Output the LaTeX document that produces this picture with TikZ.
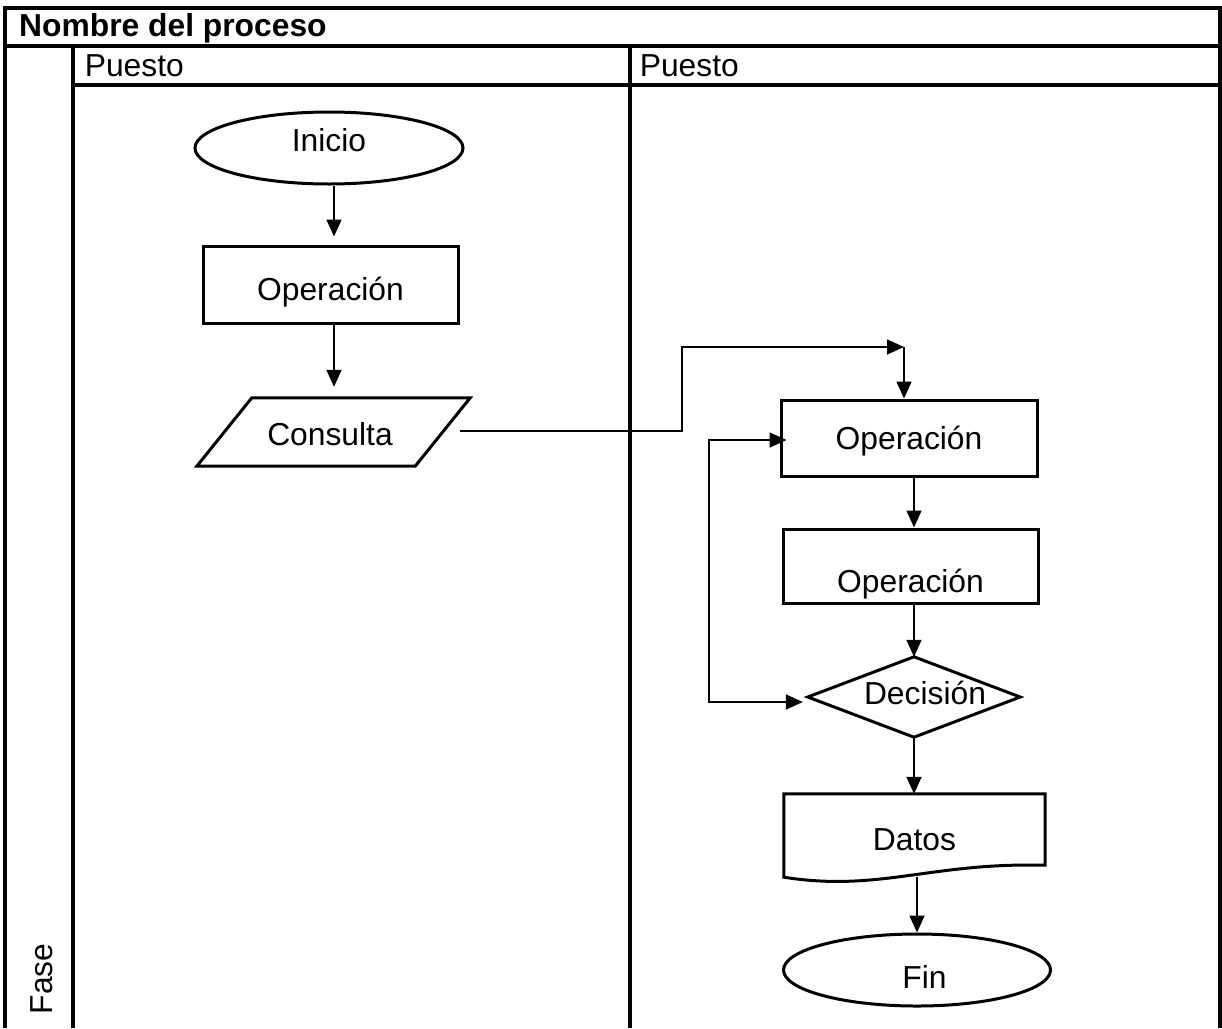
\documentclass[tikz,border=0pt]{standalone}
\usepackage{fontspec}
\setmainfont{Liberation Sans}
\usetikzlibrary{arrows.meta,shapes.geometric,calc}
\newcommand\diagsize{\fontsize{31.8pt}{37pt}\selectfont}
\begin{document}
\begin{tikzpicture}[x=1pt,y=-1pt,
  every node/.style={font=\diagsize, inner sep=0pt},
  grid/.style={line width=3.3pt},
  shp/.style={draw, line width=3pt},
  box/.style={shp, rectangle},
  term/.style={shp, ellipse},
  hidden/.style={rectangle},
  tip/.tip={Triangle[length=17pt,width=15pt]},
  conn/.style={line width=1.6pt, -tip},
  fbk/.style={line width=1.6pt, tip-tip},
  head/.style={anchor=base west}]
\useasboundingbox (0,0) rectangle (1222,1028);

% swimlane table
\draw[grid] (5,1028) -- (5,8) -- (1220,8) -- (1220,1028);
\draw[grid] (5,46) -- (1220,46);
\draw[grid] (73,85) -- (1220,85);
\draw[grid] (73,46) -- (73,1028);
\draw[grid] (630,46) -- (630,1028);

\node[head, font=\diagsize\bfseries] (title) at (19,36) {Nombre del proceso};
\node[head] (lane1) at (84.6,76) {Puesto};
\node[head] (lane2) at (639.6,76) {Puesto};
\node[head, rotate=90] (phase) at (52,1014.5) {Fase};

% left lane
\node[term, minimum width=268, minimum height=72, text height=22.6pt, text depth=16pt]
  (inicio) at (329,148) {Inicio};
\node[box, minimum width=255, minimum height=77, text height=32.6pt, text depth=0pt]
  (op1) at (330.5,284.5) {Operación};
\node[hidden, minimum width=273, minimum height=68, text height=26.6pt, text depth=0pt]
  (consulta) at (333.5,432) {\hspace*{-7pt}Consulta};
\draw[shp] ($(consulta.north west)+(55,0)$) -- (consulta.north east)
  -- ($(consulta.south east)+(-55,0)$) -- (consulta.south west) -- cycle;

% right lane
\node[box, minimum width=256, minimum height=76, text height=22.6pt, text depth=0pt]
  (op3) at (909,438) {Operación};
\node[box, minimum width=255, minimum height=74, text height=53.6pt, text depth=0pt]
  (op2) at (910.5,566) {Operación};
\node[hidden, minimum width=212, minimum height=80, text height=22.6pt, text depth=8pt]
  (dec) at (914,697) {\hspace*{22pt}Decisión};
\draw[shp] (dec.west) -- (dec.north) -- (dec.east) -- (dec.south) -- cycle;
\node[hidden, minimum width=261, minimum height=83, text height=30.6pt, text depth=0pt]
  (datos) at (914.5,835.5) {Datos};
\draw[shp] (datos.south west) -- (datos.north west) -- (datos.north east)
  -- ($(datos.south east)+(0,-12)$)
  .. controls ($(datos.south east)+(-115,-15)$) and ($(datos.south west)+(96,15)$) .. (datos.south west)
  -- cycle;
\node[term, minimum width=267, minimum height=72, text height=37.6pt, text depth=0pt]
  (fin) at (917,970) {\hspace*{15pt}Fin};

% connectors
\coordinate (laxis) at (334,0);
\coordinate (raxis) at (914,0);
\coordinate (bend) at (682,347);
\coordinate (jn) at (904,347);
\coordinate (fb1) at (709,702);
\coordinate (fb2) at (709,440);

\draw[conn, shorten >=8pt] (inicio.south -| laxis) -- (op1.north -| laxis);
\draw[conn, shorten >=11pt] (op1.south -| laxis) -- (consulta.north -| laxis);
\draw[conn] ($(consulta.east)+(-10,-1)$) -| (bend) -- (jn);
\draw[conn] (jn) -- (jn |- op3.north);
\draw[conn] (op3.south -| raxis) -- (op2.north -| raxis);
\draw[conn] (op2.south -| raxis) -- (dec.north);
\draw[conn] (dec.south) -- (datos.north -| raxis);
\draw[conn] (fin.north |- datos.south) -- (fin.north);
\draw[fbk] ($(dec.west)+(-5,5)$) -- (fb1) -- (fb2) -- ($(op3.west)+(7,2)$);
\end{tikzpicture}
\end{document}
